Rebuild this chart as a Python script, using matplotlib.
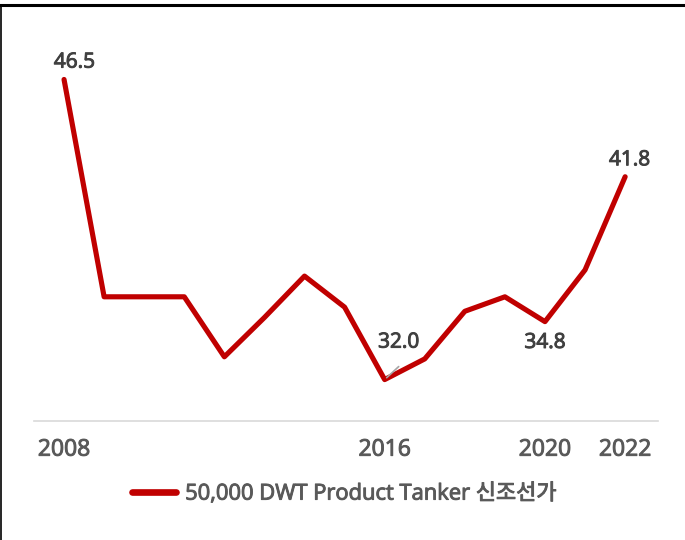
import matplotlib.pyplot as plt
import matplotlib.patheffects as pe
from matplotlib.lines import Line2D

years = list(range(2008, 2023))
prices = [46.5, 36.0, 36.0, 36.0, 33.1, 35.0, 37.0, 35.5, 32.0, 33.0, 35.3, 36.0, 34.8, 37.3, 41.8]
tick_years = [2008, 2016, 2020, 2022]
series_name = "50,000 DWT Product Tanker 신조선가"

# labelled points: year -> (dx, dy) offset in points
label_offsets = {2008: (7.5, 12.5), 2016: (10, 27), 2020: (0, -15), 2022: (3.2, 12.2)}

plt.rcParams["font.family"] = ["Open Sans", "Noto Sans CJK KR", "DejaVu Sans"]
RED = "#C00000"
TEXT = "#595959"


def thicken(color):
    # slightly heavier strokes than the regular face
    return [pe.withStroke(linewidth=0.7, foreground=color)]


fig = plt.figure(figsize=(6.85, 5.40), dpi=100)
ax = fig.add_axes([0.0496, 0.2204, 0.911, 0.7666])

ax.plot(years, prices, color=RED, lw=3.7, solid_capstyle="round", solid_joinstyle="round")
ax.set_xlim(2007.25, 2022.82)
ax.set_ylim(30, 50)

for y, (dx, dy) in label_offsets.items():
    v = prices[years.index(y)]
    ax.annotate(f"{v:.1f}", (y, v), xytext=(dx, dy), textcoords="offset points",
                ha="center", va="center", fontsize=15, color="#404040",
                path_effects=thicken("#404040"))

# short leader line for the 2016 label
ax.annotate("", (2016, 32.0), xytext=(2016.35, 32.63),
            arrowprops=dict(arrowstyle="-", color="#A6A6A6", lw=1.2, shrinkA=0, shrinkB=2))

for s in ["top", "right", "left"]:
    ax.spines[s].set_visible(False)
ax.spines["bottom"].set_color("#D9D9D9")
ax.spines["bottom"].set_linewidth(1.2)
ax.set_yticks([])
ax.set_xticks(tick_years)
ax.set_xticklabels([str(t) for t in tick_years])
ax.tick_params(axis="x", length=0, pad=12, labelsize=16.5, labelcolor=TEXT)
for lbl in ax.get_xticklabels():
    lbl.set_path_effects(thicken(TEXT))

handle = Line2D([], [], color=RED, lw=4.8, solid_capstyle="round")
leg = fig.legend([handle], [series_name], loc="center", bbox_to_anchor=(0.504, 0.085),
                 frameon=False, handlelength=2.0, handletextpad=0.4,
                 prop={"size": 15.8})
for t in leg.get_texts():
    t.set_color(TEXT)
    t.set_path_effects(thicken(TEXT))

# outer frame lines on top and left
fig.add_artist(Line2D([0, 1], [0.991, 0.991], color="black", lw=2.2, transform=fig.transFigure))
fig.add_artist(Line2D([0.001, 0.001], [0, 0.991], color="black", lw=1.2, transform=fig.transFigure))

fig.savefig("out.png", dpi=100)
